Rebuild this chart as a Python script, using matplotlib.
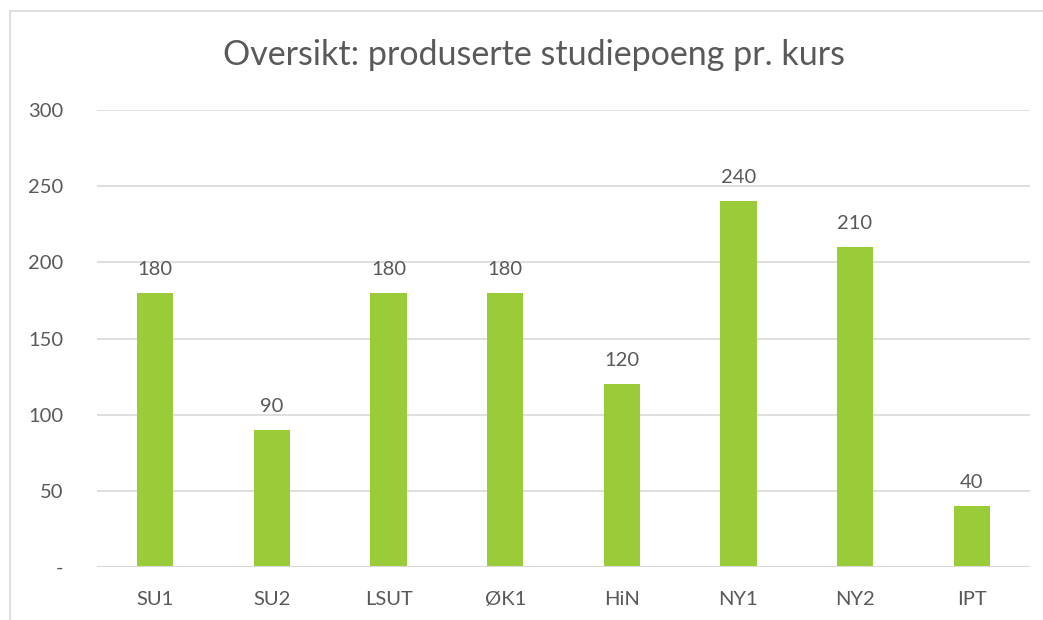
import matplotlib
matplotlib.use("Agg")
import matplotlib.pyplot as plt
from matplotlib.patches import Rectangle

categories = ["SU1", "SU2", "LSUT", "ØK1", "HiN", "NY1", "NY2", "IPT"]
values = [180, 90, 180, 180, 120, 240, 210, 40]
yticks = [0, 50, 100, 150, 200, 250, 300]
ytick_labels = ["-", "50", "100", "150", "200", "250", "300"]
title = "Oversikt: produserte studiepoeng pr. kurs"

plt.rcParams['font.family'] = ['Lato', 'DejaVu Sans']
text_color = "#595959"
bar_color = "#9ACB38"
grid_color = "#D9D9D9"

fig = plt.figure(figsize=(10.43, 6.2), dpi=100)
fig.patches.append(Rectangle((10/1043, -0.1), 1.2, (620-11)/620 + 0.1, transform=fig.transFigure,
                             fill=False, edgecolor=grid_color, linewidth=1.2))
ax = fig.add_axes([97/1043, 53/620, (1030-97)/1043, (567-110)/620])

x = list(range(len(categories)))
bars = ax.bar(x, values, width=0.31, color=bar_color, zorder=3)
for xi, v in zip(x, values):
    ax.annotate(str(v), (xi, v), xytext=(0, 11), textcoords="offset points",
                ha="center", va="bottom", fontsize=14.5, color=text_color)

ax.set_xlim(-0.5, len(categories) - 0.5)
ax.set_ylim(0, 300)
ax.set_yticks(yticks)
ax.set_yticklabels(ytick_labels)
ax.set_xticks(x)
ax.set_xticklabels(categories)
ax.tick_params(axis="both", length=0, labelsize=14.5, labelcolor=text_color)
ax.tick_params(axis="y", pad=24)
ax.tick_params(axis="x", pad=17)
ax.yaxis.grid(True, color=grid_color, linewidth=1.2, zorder=0)
for s in ax.spines.values():
    s.set_visible(False)
ax.axhline(0, color=grid_color, linewidth=1.5, zorder=4)

fig.text(534/1043, 1 - 55/620, title, ha="center", va="center", fontsize=24.5, color=text_color)

fig.savefig("out.png", dpi=100)
